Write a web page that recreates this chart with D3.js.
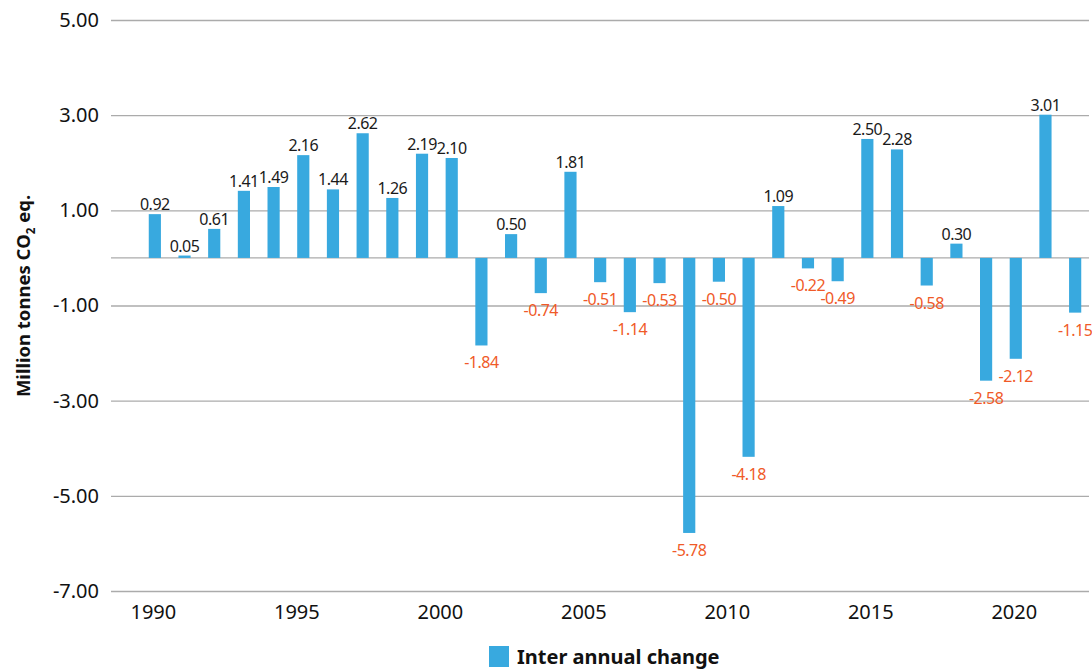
<!DOCTYPE html>
<html>
<head>
<meta charset="utf-8">
<script src="https://cdn.jsdelivr.net/npm/d3@7"></script>
<style>
  html, body { margin: 0; padding: 0; background: #fff; }
  svg { display: block; font-family: "Noto Sans", "Open Sans", sans-serif; }
</style>
</head>
<body>
<svg id="chart" width="1092" height="669"></svg>
<script>
// Inter-annual change in emissions, million tonnes CO2 eq.
const years = d3.range(1991, 2023);
const changes = [
  0.92, 0.05, 0.61, 1.41, 1.49, 2.16, 1.44, 2.62, 1.26, 2.19,
  2.10, -1.84, 0.50, -0.74, 1.81, -0.51, -1.14, -0.53, -5.78, -0.50,
  -4.18, 1.09, -0.22, -0.49, 2.50, 2.28, -0.58, 0.30, -2.58, -2.12,
  3.01, -1.15
];
const yTicks = [-7, -5, -3, -1, 1, 3, 5];
const xTickYears = [1990, 1995, 2000, 2005, 2010, 2015, 2020];
const seriesName = "Inter annual change";

const barColor = "#38a9df";
const posColor = "#1a1a1a";
const negColor = "#f05a28";
const gridColor = "#ababab";
const fontFamily = '"Noto Sans", "Open Sans", sans-serif';

const fmt = v => v.toFixed(2);

const svg = d3.select("#chart");
const gridLeft = 111, gridRight = 1089;

const x = d3.scaleBand()
  .domain(years)
  .range([140, 1090])
  .paddingInner(0.59)
  .paddingOuter(0.295);

const y = d3.scaleLinear().domain([-7, 5]).range([591, 20]);

// Year labels along the bottom, every five years
const xYear = d3.scaleLinear()
  .domain([1990, 2020])
  .range([x(1991) + x.bandwidth() / 2 - 2, x(2020) + x.bandwidth() / 2 - 2]);

// Horizontal gridlines and value axis
const yAxis = d3.axisLeft(y)
  .tickValues(yTicks)
  .tickFormat(fmt)
  .tickSize(-(gridRight - gridLeft))
  .tickPadding(12);

const yg = svg.append("g")
  .attr("transform", `translate(${gridLeft},0)`)
  .call(yAxis)
  .attr("font-family", fontFamily);
yg.select(".domain").remove();
yg.selectAll(".tick line").attr("stroke", gridColor).attr("stroke-width", 1.3);
yg.selectAll(".tick text")
  .attr("fill", "#111")
  .style("font-size", "20px")
  .attr("x", -12);

// Zero baseline
svg.append("line")
  .attr("x1", gridLeft).attr("x2", gridRight)
  .attr("y1", y(0)).attr("y2", y(0))
  .attr("stroke", gridColor).attr("stroke-width", 1.3);

// Year axis
const xAxis = d3.axisBottom(xYear)
  .tickValues(xTickYears)
  .tickFormat(d3.format("d"))
  .tickSize(0)
  .tickPadding(14);
const xg = svg.append("g")
  .attr("transform", `translate(0,${y(-7)})`)
  .call(xAxis)
  .attr("font-family", fontFamily);
xg.select(".domain").remove();
xg.selectAll(".tick text").attr("fill", "#111").style("font-size", "20px");

// Bars
const data = years.map((yr, i) => ({ year: yr, value: changes[i] }));
svg.append("g")
  .selectAll("rect")
  .data(data)
  .join("rect")
  .attr("x", d => x(d.year))
  .attr("width", x.bandwidth())
  .attr("y", d => y(Math.max(0, d.value)))
  .attr("height", d => Math.abs(y(d.value) - y(0)))
  .attr("fill", barColor);

// Value labels
svg.append("g")
  .selectAll("text")
  .data(data)
  .join("text")
  .attr("x", d => x(d.year) + x.bandwidth() / 2)
  .attr("y", d => d.value >= 0 ? y(d.value) - 4 : y(d.value) + 23)
  .attr("text-anchor", "middle")
  .attr("fill", d => d.value >= 0 ? posColor : negColor)
  .style("font-size", "16px")
  .style("letter-spacing", "-0.5px")
  .text(d => fmt(d.value));

// Axis title, centred around y = 296
const title = svg.append("text")
  .attr("fill", "#111")
  .style("font-size", "18.5px")
  .style("font-weight", "bold");
title.append("tspan").text("Million tonnes CO");
title.append("tspan").attr("dy", 5).style("font-size", "11.5px").text("2");
title.append("tspan").attr("dy", -5).text(" eq.");
const tb = title.node().getBBox();
title.attr("transform",
  `translate(30,${296 + tb.width / 2}) rotate(-90) translate(${-tb.x},0)`);

// Legend
const legend = svg.append("g").attr("transform", "translate(489,646)");
legend.append("rect").attr("width", 20).attr("height", 21).attr("fill", barColor);
legend.append("text")
  .attr("x", 28).attr("y", 18)
  .attr("fill", "#111")
  .style("font-size", "20px")
  .style("font-weight", "bold")
  .text(seriesName);
</script>
</body>
</html>
